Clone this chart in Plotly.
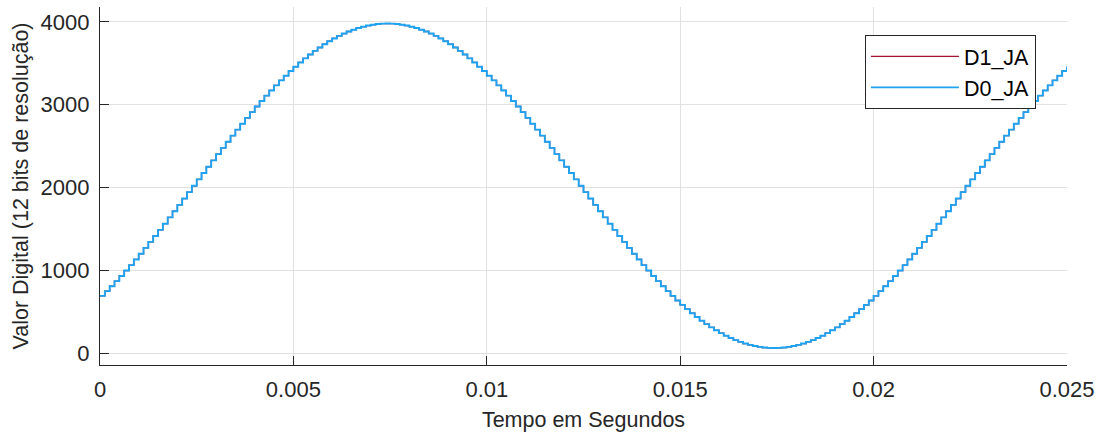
import plotly.graph_objects as go

# Sampled ADC values (12-bit), 8 kHz sample rate
sample_start = 0.0
sample_step = 0.000125

d0_rise1 = [690, 747, 807, 868, 931, 996, 1062, 1130, 1199, 1270, 1342, 1414, 1488, 1562, 1638,
            1713, 1790, 1866, 1943, 2020, 2097, 2174, 2250, 2327, 2402, 2478, 2552, 2626, 2698,
            2770, 2841, 2910, 2978, 3044, 3109, 3172, 3233, 3293, 3350, 3406, 3459, 3510, 3559,
            3606, 3650, 3691, 3730, 3766, 3800, 3831, 3859, 3884, 3906, 3926, 3942, 3956, 3966,
            3974, 3979, 3980]
d0_fall = [3979, 3974, 3966, 3956, 3942, 3926, 3906, 3884, 3859, 3831, 3800, 3766, 3730, 3691,
           3650, 3606, 3559, 3510, 3459, 3406, 3350, 3293, 3233, 3172, 3109, 3044, 2978, 2910,
           2841, 2770, 2698, 2626, 2552, 2478, 2402, 2327, 2250, 2174, 2097, 2020, 1943, 1866,
           1790, 1713, 1638, 1562, 1488, 1414, 1342, 1270, 1199, 1130, 1062, 996, 931, 868, 807,
           747, 690, 634, 581, 530, 481, 434, 390, 349, 310, 274, 240, 209, 181, 156, 134, 114,
           98, 84, 74, 66, 62, 60]
d0_rise2 = [62, 66, 74, 84, 98, 114, 134, 156, 181, 209, 240, 274, 310, 349, 390, 434, 481, 530,
            581, 634, 690, 747, 807, 868, 931, 996, 1062, 1130, 1199, 1270, 1342, 1414, 1488,
            1562, 1638, 1713, 1790, 1866, 1943, 2020, 2097, 2174, 2250, 2327, 2402, 2478, 2552,
            2626, 2698, 2770, 2841, 2910, 2978, 3044, 3109, 3172, 3233, 3293, 3350, 3406, 3459]

d0_ja = d0_rise1 + d0_fall + d0_rise2
d1_ja = list(d0_ja)

x_ticks = [0, 0.005, 0.01, 0.015, 0.02, 0.025]
x_tick_labels = ["0", "0.005", "0.01", "0.015", "0.02", "0.025"]
y_ticks = [0, 1000, 2000, 3000, 4000]
y_tick_labels = ["0", "1000", "2000", "3000", "4000"]

FONT = "Liberation Sans, Arial, sans-serif"
AX = "#262626"
GRID = "#e1e1e1"
TICK_SIZE = 22
TITLE_SIZE = 21.5

fig = go.Figure()
fig.add_trace(go.Scatter(x0=sample_start, dx=sample_step, y=d1_ja, mode="lines",
                         line=dict(shape="hv", color="#A2142F", width=1.3), name="D1_JA"))
fig.add_trace(go.Scatter(x0=sample_start, dx=sample_step, y=d0_ja, mode="lines",
                         line=dict(shape="hv", color="#1EA3F2", width=1.9), name="D0_JA"))

fig.update_layout(
    width=1102, height=435,
    margin=dict(l=100, r=34, t=7, b=68),
    paper_bgcolor="white", plot_bgcolor="white",
    font=dict(family=FONT, size=TICK_SIZE, color=AX),
    showlegend=True,
    legend=dict(x=0.791, y=0.922, xanchor="left", yanchor="top",
                bgcolor="white", bordercolor=AX, borderwidth=1,
                font=dict(family=FONT, size=TITLE_SIZE, color="#000000"),
                itemwidth=88),
)
fig.update_xaxes(
    range=[0, 0.025], tickvals=x_ticks, ticktext=x_tick_labels,
    showgrid=True, gridcolor=GRID, gridwidth=1,
    showline=True, linecolor=AX, linewidth=1.2,
    ticks="inside", ticklen=9, tickcolor=AX, tickwidth=1.2,
    ticklabelstandoff=4, zeroline=False,
    title=dict(text="Tempo em Segundos", standoff=11, font=dict(size=TITLE_SIZE, color=AX)),
    tickfont=dict(size=TICK_SIZE, color=AX),
)
fig.update_yaxes(
    range=[-145, 4180], tickvals=y_ticks, ticktext=y_tick_labels,
    showgrid=True, gridcolor=GRID, gridwidth=1,
    showline=True, linecolor=AX, linewidth=1.2,
    ticks="inside", ticklen=9, tickcolor=AX, tickwidth=1.2,
    ticklabelstandoff=5, zeroline=False,
    title=dict(text="Valor Digital (12 bits de resolução)", standoff=6,
               font=dict(size=TITLE_SIZE, color=AX)),
    tickfont=dict(size=TICK_SIZE, color=AX),
)

fig.write_html("out.html", config={"displayModeBar": False},
               post_script="document.body.style.margin='0';")
